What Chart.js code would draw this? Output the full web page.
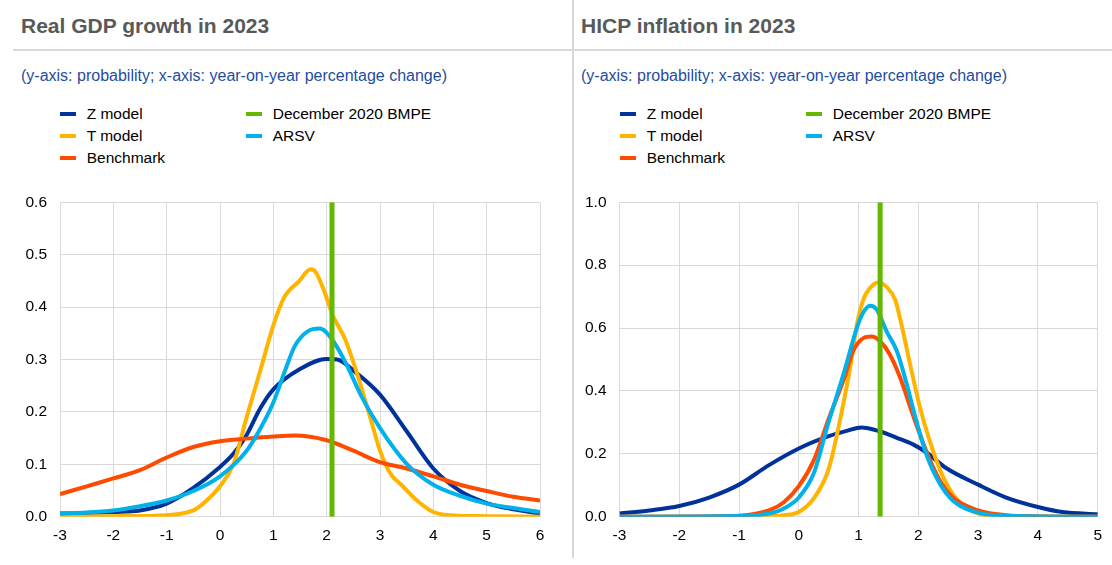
<!DOCTYPE html>
<html><head><meta charset="utf-8">
<script src="https://cdn.jsdelivr.net/npm/chart.js@4"></script>
<style>
html,body{margin:0;padding:0;background:#fff;}
body{width:1112px;height:565px;position:relative;overflow:hidden;font-family:"Liberation Sans",Arial,sans-serif;}
.abs{position:absolute;white-space:nowrap;line-height:1;}
.title{font-size:21px;font-weight:bold;color:#595959;top:14.5px;}
.sub{font-size:16px;color:#1e4d9f;top:67.5px;}
.lg{font-size:15.5px;color:#000;}
.sw{position:absolute;width:16px;height:4.6px;}
.hline{position:absolute;left:13px;top:49px;width:1099px;height:2px;background:#d9d9d9;}
.vline{position:absolute;left:572px;top:0;width:2px;height:558px;background:#d9d9d9;}
canvas{position:absolute;}
</style></head><body>
<div class="hline"></div>
<div class="vline"></div>
<div class="abs title" style="left:21px">Real GDP growth in 2023</div>
<div class="abs title" style="left:581px">HICP inflation in 2023</div>
<div class="abs sub" style="left:21px">(y-axis: probability; x-axis: year-on-year percentage change)</div>
<div class="abs sub" style="left:581px">(y-axis: probability; x-axis: year-on-year percentage change)</div>
<div id="legends"></div>
<canvas id="gdp" width="560" height="385" style="left:0;top:180px;width:560px;height:385px"></canvas>
<canvas id="hicp" width="538" height="385" style="left:574px;top:180px;width:538px;height:385px"></canvas>
<script>
// ---- series names & colours ----
const seriesNames = ["Z model", "T model", "Benchmark", "December 2020 BMPE", "ARSV"];
const seriesColors = ["#003299", "#ffb400", "#ff4b00", "#65b800", "#00b1ea"];

// ---- Real GDP growth in 2023 ----
const gdpXRange = [-3, 6];
const gdpYTicks = [0, 0.1, 0.2, 0.3, 0.4, 0.5, 0.6];
const gdpBmpe = 2.1;
const gdpZx = [-3, -2.5, -2, -1.5, -1, -0.5, 0, 0.25, 0.5, 0.75, 1, 1.5, 2, 2.2, 2.5, 3, 3.5, 4, 4.5, 5, 5.5, 6];
const gdpZy = [0.006, 0.007, 0.009, 0.012, 0.025, 0.055, 0.095, 0.12, 0.156, 0.206, 0.243, 0.282, 0.301, 0.300, 0.279, 0.233, 0.163, 0.092, 0.049, 0.026, 0.014, 0.006];
const gdpTx = [-3, -2, -1, -0.5, -0.25, 0, 0.25, 0.5, 0.75, 1, 1.2, 1.3, 1.47, 1.7, 1.8, 1.97, 2.12, 2.34, 2.59, 2.84, 3.0, 3.19, 3.4, 3.66, 4.0, 4.3, 5, 6];
const gdpTy = [0, 0.001, 0.003, 0.012, 0.031, 0.058, 0.10, 0.19, 0.277, 0.365, 0.418, 0.432, 0.448, 0.472, 0.466, 0.426, 0.383, 0.34, 0.267, 0.181, 0.126, 0.083, 0.061, 0.034, 0.009, 0.003, 0.001, 0];
const gdpBx = [-3, -2.5, -2, -1.5, -1, -0.5, 0, 0.5, 1, 1.4, 2, 2.5, 3, 3.5, 4, 4.5, 5, 5.5, 6];
const gdpBy = [0.043, 0.058, 0.073, 0.089, 0.113, 0.133, 0.144, 0.149, 0.153, 0.155, 0.146, 0.126, 0.104, 0.092, 0.077, 0.061, 0.049, 0.038, 0.031];
const gdpAx = [-3, -2.5, -2, -1.5, -1, -0.5, 0, 0.5, 0.75, 1, 1.22, 1.4, 1.65, 1.87, 2.09, 2.37, 2.65, 3, 3.5, 4, 4.5, 5, 5.4, 6];
const gdpAy = [0.006, 0.008, 0.012, 0.02, 0.031, 0.049, 0.077, 0.126, 0.167, 0.218, 0.279, 0.325, 0.354, 0.359, 0.34, 0.291, 0.23, 0.169, 0.101, 0.061, 0.04, 0.025, 0.018, 0.009];

// ---- HICP inflation in 2023 ----
const hicpXRange = [-3, 5];
const hicpYTicks = [0, 0.2, 0.4, 0.6, 0.8, 1.0];
const hicpBmpe = 1.36;
const hicpZx = [-3, -2.5, -2, -1.5, -1, -0.5, 0, 0.5, 0.8, 1.05, 1.36, 1.64, 1.91, 2.13, 2.47, 3.0, 3.47, 4.0, 4.41, 5];
const hicpZy = [0.01, 0.02, 0.034, 0.061, 0.102, 0.164, 0.217, 0.256, 0.273, 0.284, 0.271, 0.251, 0.23, 0.205, 0.154, 0.102, 0.061, 0.031, 0.015, 0.008];
const hicpTx = [-3, -1, -0.5, -0.25, 0, 0.25, 0.5, 0.75, 0.87, 0.97, 1.08, 1.19, 1.33, 1.47, 1.61, 1.72, 1.86, 2.02, 2.19, 2.41, 2.64, 3.0, 3.5, 5];
const hicpTy = [0, 0, 0.002, 0.005, 0.015, 0.058, 0.152, 0.364, 0.486, 0.609, 0.691, 0.727, 0.745, 0.73, 0.691, 0.609, 0.486, 0.353, 0.241, 0.128, 0.056, 0.01, 0.001, 0];
const hicpBx = [-3, -1.5, -1, -0.5, -0.25, 0, 0.25, 0.5, 0.75, 0.91, 1.08, 1.22, 1.36, 1.52, 1.69, 1.91, 2.13, 2.35, 2.58, 3.0, 3.47, 4, 5];
const hicpBy = [0, 0.001, 0.003, 0.02, 0.046, 0.097, 0.179, 0.312, 0.435, 0.527, 0.568, 0.573, 0.558, 0.517, 0.445, 0.323, 0.21, 0.118, 0.061, 0.02, 0.005, 0.001, 0];
const hicpAx = [-3, -1, -0.5, -0.25, 0, 0.25, 0.5, 0.75, 0.97, 1.08, 1.19, 1.3, 1.47, 1.64, 1.8, 1.97, 2.13, 2.35, 2.58, 3.0, 3.47, 5];
const hicpAy = [0, 0.002, 0.01, 0.026, 0.061, 0.138, 0.302, 0.455, 0.60, 0.65, 0.671, 0.66, 0.589, 0.527, 0.425, 0.302, 0.2, 0.108, 0.051, 0.013, 0.003, 0];

// ---- legends (HTML) ----
const legendCols = [[0, 1, 2], [3, 4]];
(function buildLegends() {
  const host = document.getElementById('legends');
  [0, 560].forEach(ox => {
    legendCols.forEach((col, c) => {
      col.forEach((si, r) => {
        const sw = document.createElement('div');
        sw.className = 'sw';
        sw.style.left = (60 + 186 * c + ox) + 'px';
        sw.style.top = (111.7 + 22 * r) + 'px';
        sw.style.background = seriesColors[si];
        host.appendChild(sw);
        const t = document.createElement('div');
        t.className = 'abs lg';
        t.style.left = (86.7 + 186 * c + ox) + 'px';
        t.style.top = (106.2 + 22 * r) + 'px';
        t.textContent = seriesNames[si];
        host.appendChild(t);
      });
    });
  });
})();

function pts(xs, ys) { return xs.map((x, i) => ({ x: x, y: ys[i] })); }

function curve(i, xs, ys) {
  return {
    label: seriesNames[i], data: pts(xs, ys), borderColor: seriesColors[i],
    backgroundColor: seriesColors[i], borderWidth: 4, pointRadius: 0,
    cubicInterpolationMode: 'monotone', borderJoinStyle: 'round', fill: false
  };
}

function makeChart(id, sets, xr, yTicks, bmpe, yWidth, padRight) {
  const ymax = yTicks[yTicks.length - 1];
  const ystep = yTicks[1] - yTicks[0];
  const font = { family: '"Liberation Sans", Arial, sans-serif', size: 15.5 };
  const datasets = [
    { label: seriesNames[3], data: [{ x: bmpe, y: 0 }, { x: bmpe, y: ymax }], borderColor: seriesColors[3],
      backgroundColor: seriesColors[3], borderWidth: 5, pointRadius: 0, fill: false },
    curve(4, sets.A[0], sets.A[1]),
    curve(2, sets.B[0], sets.B[1]),
    curve(1, sets.T[0], sets.T[1]),
    curve(0, sets.Z[0], sets.Z[1])
  ];
  return new Chart(document.getElementById(id), {
    type: 'line',
    data: { datasets: datasets },
    options: {
      responsive: false, animation: false, devicePixelRatio: 1,
      layout: { padding: { top: 11, right: padRight, bottom: 8.3, left: 0 } },
      plugins: { legend: { display: false }, tooltip: { enabled: false }, title: { display: false } },
      scales: {
        x: {
          type: 'linear', min: xr[0], max: xr[1],
          afterFit: s => { s.height = 40; },
          grid: { color: '#d9d9d9', lineWidth: 1, drawTicks: false },
          border: { color: '#d9d9d9', width: 1 },
          ticks: { stepSize: 1, padding: 10, color: '#000', font: font, maxRotation: 0,
                   callback: v => String(v) }
        },
        y: {
          min: 0, max: ymax,
          afterFit: s => { s.width = yWidth; },
          grid: { color: '#d9d9d9', lineWidth: 1, drawTicks: false },
          border: { color: '#d9d9d9', width: 1 },
          ticks: { stepSize: ystep, padding: 13, color: '#000', font: font,
                   callback: v => Number(v).toFixed(1) }
        }
      }
    }
  });
}

makeChart('gdp', { Z: [gdpZx, gdpZy], T: [gdpTx, gdpTy], B: [gdpBx, gdpBy], A: [gdpAx, gdpAy] },
  gdpXRange, gdpYTicks, gdpBmpe, 60, 20);
makeChart('hicp', { Z: [hicpZx, hicpZy], T: [hicpTx, hicpTy], B: [hicpBx, hicpBy], A: [hicpAx, hicpAy] },
  hicpXRange, hicpYTicks, hicpBmpe, 45.5, 11.7);
</script>
</body></html>
